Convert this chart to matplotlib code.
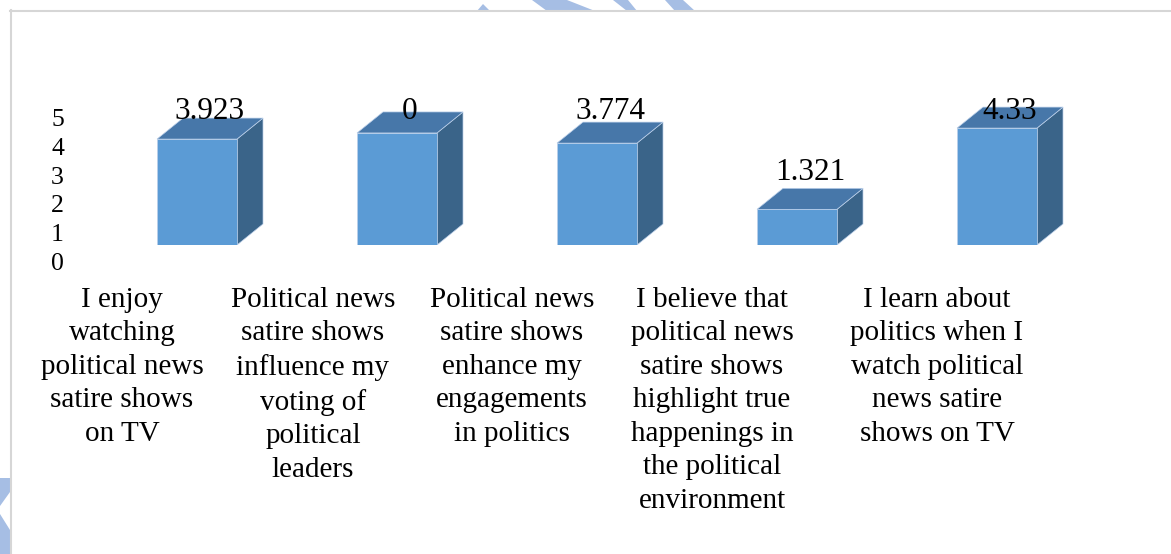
import matplotlib.pyplot as plt
from matplotlib.patches import Polygon, Rectangle
from matplotlib.lines import Line2D

categories = [
    "I enjoy\nwatching\npolitical news\nsatire shows\non TV",
    "Political news\nsatire shows\ninfluence my\nvoting of\npolitical\nleaders",
    "Political news\nsatire shows\nenhance my\nengagements\nin politics",
    "I believe that\npolitical news\nsatire shows\nhighlight true\nhappenings in\nthe political\nenvironment",
    "I learn about\npolitics when I\nwatch political\nnews satire\nshows on TV",
]
heights = [3.923, 4.15, 3.774, 1.321, 4.33]
value_labels = ["3.923", "0", "3.774", "1.321", "4.33"]
axis_ticks = [0, 1, 2, 3, 4, 5]

W, H = 1171, 554
serif = "Liberation Serif"
front_c, top_c, side_c = "#5B9BD5", "#4777A9", "#3A6489"
edge_c = "#BCD0EA"

fig = plt.figure(figsize=(W / 100, H / 100), dpi=100)


def px(x, y):
    # pixel position (from top-left) -> figure fraction
    return (x / W, 1 - y / H)


# faint watermark stripes peeking out around the chart frame
wm = "#A6BEE4"
for pts in [
    [(477, 11), (483, 4), (490, 11)],
    [(532, 0), (567, 0), (595, 11), (547, 11)],
    [(613, 0), (628, 0), (637, 11), (627, 11)],
    [(665, 0), (683, 0), (695, 11), (675, 11)],
    [(0, 478), (10, 478), (10, 492), (0, 506)],
    [(0, 514), (10, 530), (10, 554), (0, 554)],
]:
    fig.patches.append(Polygon([px(*p) for p in pts], closed=True, facecolor=wm,
                               edgecolor="none", transform=fig.transFigure))

# chart frame (top and left edges only are in view)
fig.lines.append(Line2D([10 / W, 1], [1 - 11 / H] * 2, color="#D6D6D6", lw=1.5,
                        transform=fig.transFigure))
fig.lines.append(Line2D([11 / W] * 2, [0, 1 - 10 / H], color="#D6D6D6", lw=1.5,
                        transform=fig.transFigure))

# bar area: 200 px per category, 27 px per unit
y_top = 5.2
ax = fig.add_axes([97 / W, (H - 245) / H, 1000 / W, y_top * 27 / H])
ax.set_xlim(-0.5, 4.5)
ax.set_ylim(0, y_top)
for s in ax.spines.values():
    s.set_visible(False)
ax.set_yticks([])

w, dx, dy = 0.2, 0.13, 0.778
for i, h in enumerate(heights):
    ax.add_patch(Polygon([(i + w, 0), (i + w + dx, dy), (i + w + dx, h + dy), (i + w, h)],
                         facecolor=side_c, edgecolor=edge_c, lw=0.5))
    ax.add_patch(Polygon([(i - w, h), (i + w, h), (i + w + dx, h + dy), (i - w + dx, h + dy)],
                         facecolor=top_c, edgecolor=edge_c, lw=0.5))
    ax.add_patch(Rectangle((i - w, 0), 2 * w, h, facecolor=front_c, edgecolor=edge_c, lw=0.5))
    ax.text(i + dx / 2, min(h + dy + 0.6, 4.93), value_labels[i], ha="center", va="center",
            fontsize=22.5, family=serif, clip_on=False)

label_offsets = [-0.375, -0.42, -0.425, -0.425, -0.3]
ax.set_xticks([i + o for i, o in enumerate(label_offsets)])
ax.set_xticklabels(categories, fontsize=21, family=serif, linespacing=1.375)
ax.tick_params(axis="x", length=0, pad=30)

# value axis labels sit on their own scale at the left
ax_y = fig.add_axes([70 / W, (H - 261) / H, 0.001, (261 - 118) / H])
ax_y.set_ylim(0, 5)
ax_y.set_yticks(axis_ticks)
ax_y.set_yticklabels([str(t) for t in axis_ticks], fontsize=18.5, family=serif)
ax_y.tick_params(axis="y", length=0, pad=4.3)
ax_y.set_xticks([])
for s in ax_y.spines.values():
    s.set_visible(False)
ax_y.patch.set_visible(False)

fig.savefig("out.png", dpi=100)
